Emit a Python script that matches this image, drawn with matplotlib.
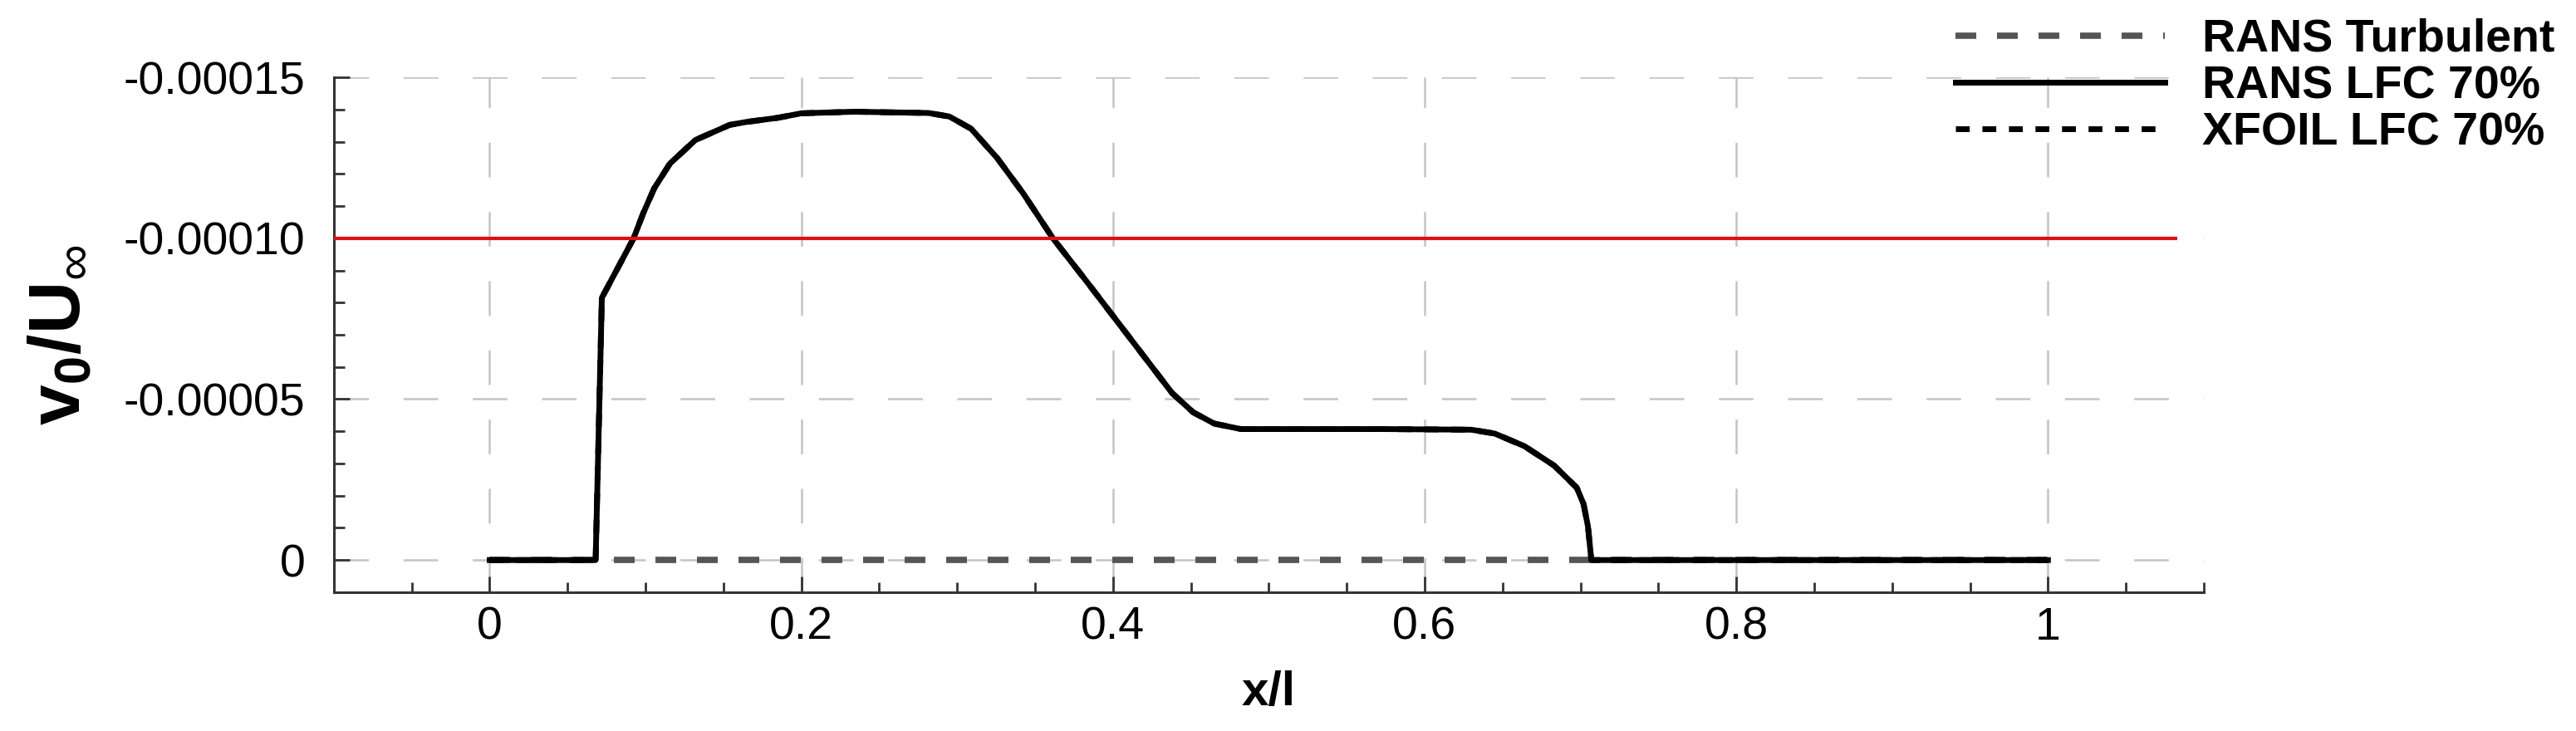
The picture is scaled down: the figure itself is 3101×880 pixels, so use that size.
# Suction velocity distribution v0/U_inf along the chord
# RANS turbulent vs RANS LFC 70% vs XFOIL LFC 70%, with the suction limit line

import matplotlib.pyplot as plt
from matplotlib.ticker import MultipleLocator, FixedLocator, FixedFormatter

plt.rcParams['font.family'] = ['Liberation Sans', 'DejaVu Sans']
plt.rcParams['mathtext.fontset'] = 'custom'
plt.rcParams['mathtext.rm'] = 'Liberation Sans'
plt.rcParams['mathtext.bf'] = 'Liberation Sans:bold'
plt.rcParams['lines.scale_dashes'] = False

# data
x_turb = [0.0, 1.0]
v_turb = [0.0, 0.0]

x_lfc = [0.0, 0.068, 0.072, 0.0924, 0.0985, 0.1056, 0.1157, 0.132, 0.154,
         0.1645, 0.1848, 0.2, 0.234, 0.2816, 0.295, 0.309, 0.3257, 0.3427,
         0.3614, 0.3835, 0.4039, 0.4243, 0.4379, 0.4515, 0.465, 0.482,
         0.5738, 0.63, 0.645, 0.664, 0.683, 0.6976, 0.702, 0.7048, 0.707, 1.0]
v_lfc = [0.0, 0.0, -81.5e-6, -100.0e-6, -107.7e-6, -115.5e-6, -123.2e-6,
         -130.5e-6, -135.2e-6, -136.1e-6, -137.4e-6, -138.8e-6, -139.3e-6,
         -138.9e-6, -137.8e-6, -134.0e-6, -124.9e-6, -113.7e-6, -100.0e-6,
         -86.3e-6, -73.4e-6, -60.5e-6, -51.9e-6, -45.9e-6, -42.4e-6,
         -40.7e-6, -40.7e-6, -40.5e-6, -39.3e-6, -35.4e-6, -29.4e-6,
         -22.5e-6, -17.4e-6, -10.5e-6, 0.0, 0.0]

# XFOIL result lies on top of the RANS LFC curve
x_xfoil = x_lfc
v_xfoil = v_lfc

limit_value = -0.0001
limit_x = [-0.1, 1.083]

x_ticks = [0, 0.2, 0.4, 0.6, 0.8, 1.0]
x_ticklabels = ['0', '0.2', '0.4', '0.6', '0.8', '1']
y_ticks = [0, -0.00005, -0.0001, -0.00015]
y_ticklabels = ['0', '-0.00005', '-0.00010', '-0.00015']

fig = plt.figure(figsize=(31.01, 8.8), dpi=100)
ax = fig.add_axes([0.1296, 0.1898, 0.7259, 0.7045])

ax.plot(x_turb, v_turb, color='#555555', lw=5.5, linestyle=(0, (18, 18)),
        label='RANS Turbulent', zorder=3)
ax.plot(x_lfc, v_lfc, color='black', lw=5, label='RANS LFC 70%', zorder=4)
ax.plot(x_xfoil, v_xfoil, color='black', lw=5, linestyle=(0, (12, 11)),
        label='XFOIL LFC 70%', zorder=5)
ax.hlines(limit_value, limit_x[0], limit_x[1], color='#e01010', lw=3, zorder=6)

ax.set_xlim(-0.1, 1.1)
ax.set_ylim(0.00001, -0.00015)

ax.xaxis.set_major_locator(FixedLocator(x_ticks))
ax.xaxis.set_major_formatter(FixedFormatter(x_ticklabels))
ax.xaxis.set_minor_locator(MultipleLocator(0.05))
ax.yaxis.set_major_locator(FixedLocator(y_ticks))
ax.yaxis.set_major_formatter(FixedFormatter(y_ticklabels))
ax.yaxis.set_minor_locator(MultipleLocator(0.00001))

ax.tick_params(which='both', direction='in', width=2, color='#333333')
ax.tick_params(which='major', length=14)
ax.tick_params(which='minor', length=9)
ax.tick_params(axis='y', which='major', labelsize=40, pad=25)
ax.tick_params(axis='x', which='major', labelsize=40, pad=12)

for side in ['top', 'right']:
    ax.spines[side].set_visible(False)
for side in ['left', 'bottom']:
    ax.spines[side].set_linewidth(2.2)
    ax.spines[side].set_color('#333333')

ax.grid(True, which='major', color='#c4c4c4', lw=1.8, linestyle=(0, (30, 30)))
ax.set_axisbelow(True)

ax.set_xlabel('x/l', fontsize=42, fontweight='bold', labelpad=18)
ax.set_ylabel(r'$\mathbf{v_0/U}_{\infty}$', fontsize=63, labelpad=24)

fig.legend(loc='upper left', bbox_to_anchor=(0.759, 0.975), frameon=False,
           prop={'size': 40, 'weight': 'bold'}, handlelength=4.55,
           handletextpad=0.8, labelspacing=0.08, borderpad=0, borderaxespad=0)

fig.savefig('out.png', dpi=100)
